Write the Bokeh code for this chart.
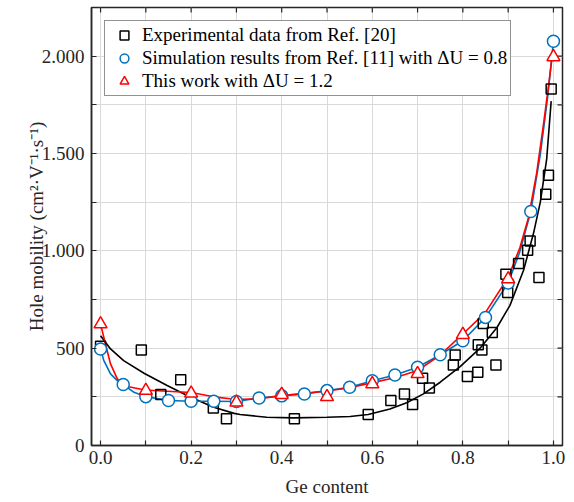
import math
from bokeh.plotting import figure
from bokeh.models import Range1d, FixedTicker, Legend, LegendItem
from bokeh.embed import file_html
from bokeh.resources import INLINE

# ---------------- data ----------------
# Experimental data from Ref. [20]
exp_x = [0.0, 0.09, 0.133, 0.177, 0.249, 0.278, 0.428, 0.591, 0.641, 0.671,
         0.689, 0.711, 0.726, 0.779, 0.783, 0.81, 0.833, 0.834, 0.842, 0.845,
         0.865, 0.873, 0.895, 0.899, 0.923, 0.943, 0.9485, 0.968, 0.983, 0.989,
         0.995]
exp_y = [510, 491, 262, 338, 193, 137, 138, 159, 231, 265,
         210, 345, 296, 414, 465, 354, 376, 518, 491, 627,
         581, 414, 880, 786, 935, 1003, 1051, 863, 1291, 1388,
         1831]

# fitted curve of the experimental data (black line)
exp_fit_x = [0.0, 0.022, 0.051, 0.096, 0.147, 0.199, 0.25, 0.295, 0.308, 0.367,
             0.426, 0.5, 0.551, 0.591, 0.639, 0.676, 0.713, 0.75, 0.794, 0.838,
             0.875, 0.904, 0.934, 0.956, 0.971, 0.985, 0.995]
exp_fit_y = [564, 496, 436, 371, 308, 248, 196, 165, 159, 145,
             142, 145, 149, 159, 188, 220, 265, 325, 405, 500,
             605, 720, 900, 1090, 1250, 1470, 1769]

# Simulation results from Ref. [11], dU = 0.8 (blue circles)
sim_x = [0.0, 0.05, 0.1, 0.15, 0.2, 0.25, 0.3, 0.35, 0.4, 0.45, 0.5,
         0.55, 0.6, 0.65, 0.7, 0.75, 0.8, 0.85, 0.9, 0.95, 1.0]
sim_y = [496, 313, 251, 231, 227, 227, 226, 244, 255, 265, 282,
         299, 333, 362, 402, 466, 538, 658, 835, 1202, 2077]

# blue line through the simulation results
sim_line_x = [0.0, 0.0073, 0.022, 0.037, 0.05, 0.074, 0.1, 0.15, 0.2, 0.25, 0.3,
              0.35, 0.4, 0.45, 0.5, 0.55, 0.6, 0.65, 0.7, 0.75, 0.8, 0.85,
              0.9, 0.925, 0.95, 0.971, 0.987, 1.0]
sim_line_y = [496, 436, 368, 333, 313, 273, 251, 231, 227, 227, 226,
              244, 255, 265, 282, 299, 333, 362, 402, 466, 538, 658,
              835, 990, 1202, 1496, 1786, 2077]

# This work, dU = 1.2 (red triangles)
work_x = [0.0, 0.1, 0.2, 0.3, 0.4, 0.5, 0.6, 0.7, 0.8, 0.9, 1.0]
work_y = [624, 282, 268, 222, 261, 250, 316, 368, 569, 855, 1996]

# red fitted curve
work_fit_x = [0.0, 0.0073, 0.022, 0.037, 0.059, 0.098, 0.147, 0.2, 0.25, 0.3,
              0.35, 0.4, 0.45, 0.5, 0.55, 0.6, 0.65, 0.7, 0.75, 0.8,
              0.85, 0.9, 0.926, 0.945, 0.963, 0.978, 0.991, 0.997]
work_fit_y = [624, 555, 419, 342, 303, 285, 279, 272, 250, 236,
              240, 256, 268, 280, 297, 323, 348, 385, 465, 573,
              684, 863, 1017, 1171, 1400, 1650, 1880, 1996]

x_major = [0.0, 0.2, 0.4, 0.6, 0.8, 1.0]
x_minor = [0.1, 0.3, 0.5, 0.7, 0.9]
x_labels = ["0.0", "0.2", "0.4", "0.6", "0.8", "1.0"]
y_major = [0, 500, 1000, 1500, 2000]
y_minor = [250, 750, 1250, 1750]
y_labels = ["0", "500", "1.000", "1.500", "2.000"]

X_MIN, X_MAX = -0.02, 1.02
Y_MIN, Y_MAX = 0, 2250

legend_labels = ["Experimental data from Ref. [20]",
                 "Simulation results from Ref. [11] with \u0394U = 0.8",
                 "This work with \u0394U = 1.2"]

# ---------------- style ----------------
FONT = "Liberation Serif"
TXT = "#262626"
BLUE = "#0072BD"
RED = "#FF0000"
GRID = "#d9d9d9"

p = figure(width=574, height=502, output_backend="svg", toolbar_location=None,
           x_range=Range1d(X_MIN, X_MAX), y_range=Range1d(Y_MIN, Y_MAX),
           min_border_left=91, min_border_right=12, min_border_top=7,
           min_border_bottom=57)
p.background_fill_color = "white"
p.border_fill_color = "white"
p.outline_line_color = TXT
p.outline_line_width = 1.5

xt = FixedTicker(ticks=x_major, minor_ticks=x_minor)
yt = FixedTicker(ticks=y_major, minor_ticks=y_minor)

for ax in p.xaxis + p.yaxis:
    ax.axis_line_color = TXT
    ax.axis_line_width = 1.5
    ax.major_tick_in = 5
    ax.major_tick_out = 0
    ax.minor_tick_in = 5
    ax.minor_tick_out = 0
    ax.major_tick_line_color = TXT
    ax.minor_tick_line_color = TXT
    ax.major_tick_line_width = 1.2
    ax.minor_tick_line_width = 1.2
    ax.major_label_text_font = FONT
    ax.major_label_text_font_size = "19px"
    ax.major_label_text_color = TXT
    ax.axis_label_text_font = FONT
    ax.axis_label_text_font_size = "19px"
    ax.axis_label_text_font_style = "normal"
    ax.axis_label_text_color = TXT

p.xaxis.ticker = xt
p.yaxis.ticker = yt
p.xaxis.major_label_overrides = dict(zip(x_major, x_labels))
p.yaxis.major_label_overrides = dict(zip(y_major, y_labels))
p.xaxis.axis_label = "Ge content"
p.yaxis.axis_label = "Hole mobility (cm\u00b2\u00b7V\u207b\u00b9\u00b7s\u207b\u00b9)"
p.xaxis.major_label_standoff = 5
p.yaxis.major_label_standoff = 7
p.xaxis.axis_label_standoff = 9
p.yaxis.axis_label_standoff = -8

p.xgrid.ticker = xt
p.ygrid.ticker = yt
for g in (p.xgrid, p.ygrid):
    g.grid_line_color = GRID
    g.minor_grid_line_color = GRID
    g.grid_line_width = 1
    g.minor_grid_line_width = 1

# mirrored tick marks on the top and right edges (clipped to the frame)
all_x_ticks = sorted(x_major + x_minor)
all_y_ticks = sorted(y_major + y_minor)
p.scatter(all_x_ticks, [Y_MAX] * len(all_x_ticks), marker="dash", angle=math.pi / 2,
          size=10, line_color=TXT, line_width=1.2)
p.scatter([X_MAX] * len(all_y_ticks), all_y_ticks, marker="dash",
          size=10, line_color=TXT, line_width=1.2)

# lines
p.line(exp_fit_x, exp_fit_y, line_color="black", line_width=1.6)
p.line(sim_line_x, sim_line_y, line_color=BLUE, line_width=1.6)
p.line(work_fit_x, work_fit_y, line_color=RED, line_width=1.6)

# markers
r_sq = p.scatter(exp_x, exp_y, marker="square", size=10, line_color="black",
                 line_width=1.5, fill_color=None)
r_ci = p.scatter(sim_x, sim_y, marker="circle", size=12, line_color=BLUE,
                 line_width=1.5, fill_color="white")
r_tr = p.scatter(work_x, work_y, marker="triangle", size=13, line_color=RED,
                 line_width=1.5, fill_color="white")

legend = Legend(items=[LegendItem(label=legend_labels[0], renderers=[r_sq]),
                       LegendItem(label=legend_labels[1], renderers=[r_ci]),
                       LegendItem(label=legend_labels[2], renderers=[r_tr])],
                location="top_left")
legend.margin = 13
legend.padding = 3
legend.spacing = 1
legend.glyph_width = 32
legend.glyph_height = 22
legend.label_height = 22
legend.label_standoff = 2
legend.label_text_font = FONT
legend.label_text_font_size = "19px"
legend.label_text_color = "black"
legend.border_line_color = TXT
legend.border_line_width = 1.5
legend.background_fill_color = "white"
legend.background_fill_alpha = 1.0
p.add_layout(legend, "center")

open("out.html", "w").write(file_html(p, INLINE))
